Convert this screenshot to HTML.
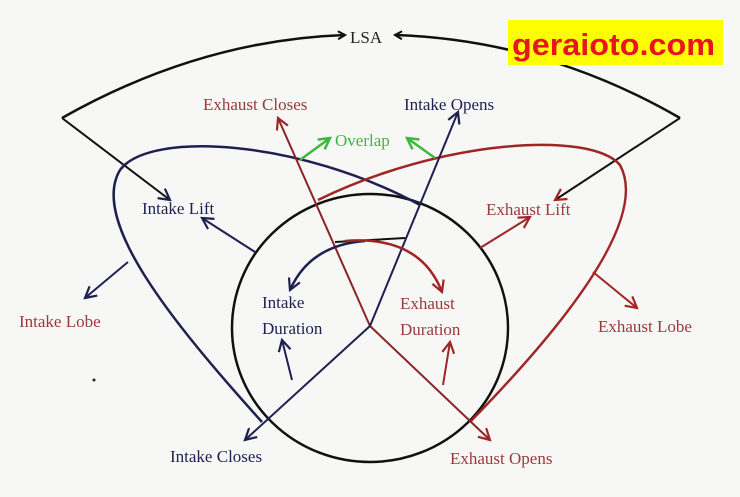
<!DOCTYPE html>
<html><head><meta charset="utf-8"><style>
html,body{margin:0;padding:0;background:#f7f7f5;}
svg{display:block;}
text{font-family:"Liberation Serif",serif;font-size:17px;}
.r{fill:#9a3a3a}.b{fill:#1e2150}
</style></head><body>
<svg width="740" height="497" viewBox="0 0 740 497" xmlns="http://www.w3.org/2000/svg">
<defs>
<marker id="ak" markerWidth="10" markerHeight="10" refX="8" refY="5" orient="auto" markerUnits="userSpaceOnUse"><path d="M1,1 L8,5 L1,9" fill="none" stroke="#111" stroke-width="2"/></marker>
<marker id="ab" markerWidth="14" markerHeight="14" refX="12" refY="7" orient="auto" markerUnits="userSpaceOnUse"><path d="M1,1 L12,7 L1,13" fill="none" stroke="#1e2150" stroke-width="2.2"/></marker>
<marker id="ar" markerWidth="14" markerHeight="14" refX="12" refY="7" orient="auto" markerUnits="userSpaceOnUse"><path d="M1,1 L12,7 L1,13" fill="none" stroke="#a02525" stroke-width="2.2"/></marker>
<marker id="ag" markerWidth="14" markerHeight="14" refX="12" refY="7" orient="auto" markerUnits="userSpaceOnUse"><path d="M1,1 L12,7 L1,13" fill="none" stroke="#3cb83c" stroke-width="2.5"/></marker>
</defs>
<path d="M62,118 Q200,40 345,35" fill="none" stroke="#111" stroke-width="2.5" marker-end="url(#ak)"/>
<path d="M680,118 Q545,40 395,35" fill="none" stroke="#111" stroke-width="2.5" marker-end="url(#ak)"/>
<line x1="62" y1="118" x2="170" y2="200" stroke="#111" stroke-width="2" marker-end="url(#ab)"/>
<line x1="680" y1="118" x2="555" y2="200" stroke="#111" stroke-width="2" marker-end="url(#ar)"/>
<text x="350" y="43" fill="#222">LSA</text>
<ellipse cx="370" cy="328" rx="138" ry="134" fill="none" stroke="#111" stroke-width="2.5"/>
<path d="M262,422 C170,320 90,220 120,170 C150,130 300,140 420,205" fill="none" stroke="#1e2150" stroke-width="2.5"/>
<path d="M470,422 C560,330 650,220 620,165 C590,130 440,140 318,200" fill="none" stroke="#a02525" stroke-width="2.5"/>
<line x1="370" y1="326" x2="278" y2="118" stroke="#8a2525" stroke-width="2" marker-end="url(#ar)"/>
<line x1="370" y1="326" x2="490" y2="440" stroke="#8a2525" stroke-width="2" marker-end="url(#ar)"/>
<line x1="370" y1="326" x2="458" y2="112" stroke="#1e2150" stroke-width="2" marker-end="url(#ab)"/>
<line x1="370" y1="326" x2="245" y2="440" stroke="#1e2150" stroke-width="2" marker-end="url(#ab)"/>
<line x1="300" y1="160" x2="330" y2="138" stroke="#3cb83c" stroke-width="2.5" marker-end="url(#ag)"/>
<line x1="435" y1="158" x2="407" y2="138" stroke="#3cb83c" stroke-width="2.5" marker-end="url(#ag)"/>
<text x="335" y="146" fill="#3cb83c" font-size="15">Overlap</text>
<line x1="255" y1="252" x2="202" y2="218" stroke="#1e2150" stroke-width="2" marker-end="url(#ab)"/>
<line x1="480" y1="248" x2="530" y2="217" stroke="#a02525" stroke-width="2" marker-end="url(#ar)"/>
<line x1="128" y1="262" x2="85" y2="298" stroke="#1e2150" stroke-width="2" marker-end="url(#ab)"/>
<line x1="593" y1="272" x2="637" y2="308" stroke="#a02525" stroke-width="2" marker-end="url(#ar)"/>
<line x1="335" y1="242" x2="405" y2="238" stroke="#111" stroke-width="2"/>
<path d="M365,241 Q310,245 290,290" fill="none" stroke="#1e2150" stroke-width="2.5" marker-end="url(#ab)"/>
<path d="M345,241 Q420,235 442,292" fill="none" stroke="#a02525" stroke-width="2.5" marker-end="url(#ar)"/>
<line x1="292" y1="380" x2="282" y2="340" stroke="#1e2150" stroke-width="2" marker-end="url(#ab)"/>
<line x1="443" y1="385" x2="450" y2="342" stroke="#a02525" stroke-width="2" marker-end="url(#ar)"/>
<text x="203" y="110" class="r">Exhaust Closes</text>
<text x="404" y="110" class="b">Intake Opens</text>
<text x="142" y="214" class="b">Intake Lift</text>
<text x="486" y="215" class="r">Exhaust Lift</text>
<text x="19" y="327" class="r">Intake Lobe</text>
<text x="598" y="332" class="r">Exhaust Lobe</text>
<text x="262" y="308" class="b">Intake</text>
<text x="262" y="334" class="b">Duration</text>
<text x="400" y="309" class="r">Exhaust</text>
<text x="400" y="335" class="r">Duration</text>
<text x="170" y="462" class="b">Intake Closes</text>
<text x="450" y="464" class="r">Exhaust Opens</text>
<circle cx="94" cy="380" r="1.5" fill="#222"/>
<rect x="508" y="20" width="215" height="45" fill="#ffff00"/>
<text x="512" y="55" textLength="203" lengthAdjust="spacingAndGlyphs" style="fill:#e8141e;font-family:'Liberation Sans',sans-serif;font-weight:bold;font-size:31px;">geraioto.com</text>
</svg>
</body></html>
